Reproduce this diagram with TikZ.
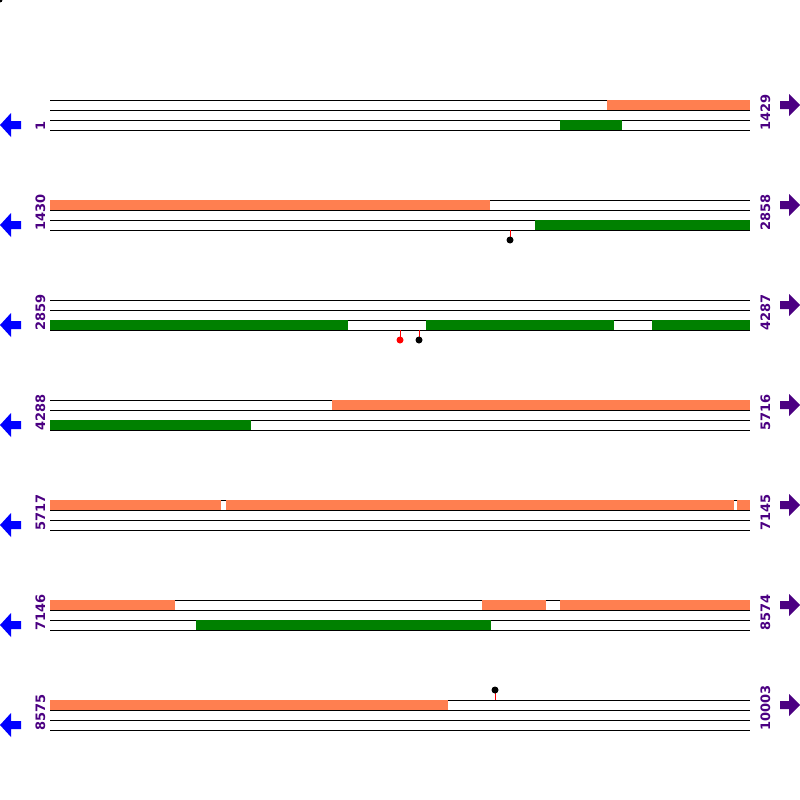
\documentclass[tikz,border=0pt]{standalone}
\usepackage{fontspec}
\setmainfont{DejaVu Sans}
\definecolor{coralc}{HTML}{FF7F50}
\definecolor{greenc}{HTML}{008000}
\definecolor{indigoc}{HTML}{4B0082}
\definecolor{bluec}{HTML}{0000FF}
\tikzset{
  strand/.style={black, line width=1pt},
  fwdbox/.style={fill=coralc, draw=none},
  revbox/.style={fill=greenc, draw=none},
  poslabel/.style={text=indigoc, font=\bfseries\fontsize{13}{13}\selectfont, rotate=90, anchor=west, inner sep=0pt},
  leftarrow/.style={fill=bluec, draw=none},
  rightarrow/.style={fill=indigoc, draw=none},
  stem/.style={red, line width=1pt},
  pin/.style={fill=black, draw=none},
  redpin/.style={fill=red, draw=none}
}
\begin{document}
\begin{tikzpicture}[x=1pt, y=-1pt]
\useasboundingbox (0,0) rectangle (800,800);
\fill[black] (0,0) circle (2.5);
% rows
\foreach \i/\l/\r in {0/1/1429, 1/1430/2858, 2/2859/4287, 3/4288/5716, 4/5717/7145, 5/7146/8574, 6/8575/10003} {
  \pgfmathsetmacro{\yz}{100+100*\i}
  \draw[strand] (50,\yz) -- (750,\yz);
  \draw[strand] (50,\yz+10) -- (750,\yz+10);
  \draw[strand] (50,\yz+20) -- (750,\yz+20);
  \draw[strand] (50,\yz+30) -- (750,\yz+30);
  \node[poslabel] (L\i) at (40.5,\yz+31) {\l};
  \node[poslabel] (R\i) at (765.5,\yz+31) {\r};
  \pgfmathsetmacro{\cl}{\yz+25}
  \pgfmathsetmacro{\cr}{\yz+5}
  \fill[leftarrow] (0,\cl) -- (11,\cl-12) -- (11,\cl-4) -- (21,\cl-4) -- (21,\cl+4) -- (11,\cl+4) -- (11,\cl+12) -- cycle;
  \fill[rightarrow] (800,\cr) -- (789,\cr-11) -- (789,\cr-4) -- (780,\cr-4) -- (780,\cr+4) -- (789,\cr+4) -- (789,\cr+11) -- cycle;
}
% row 1
\fill[fwdbox] (607,100) rectangle (750,110);
\fill[revbox] (560,120) rectangle (622,130);
% row 2
\fill[fwdbox] (50,200) rectangle (490,210);
\fill[revbox] (535,220) rectangle (750,230);
\draw[stem] (510,230) -- (510,237);
\fill[pin] (510,240) circle (3.5);
% row 3
\fill[revbox] (50,320) rectangle (348,330);
\fill[revbox] (426,320) rectangle (614,330);
\fill[revbox] (652,320) rectangle (750,330);
\draw[stem] (400,330) -- (400,337);
\fill[redpin] (400,340) circle (3.5);
\draw[stem] (419,330) -- (419,337);
\fill[pin] (419,340) circle (3.5);
% row 4
\fill[fwdbox] (332,400) rectangle (750,410);
\fill[revbox] (50,420) rectangle (251,430);
% row 5
\fill[fwdbox] (50,500) rectangle (221,510);
\fill[fwdbox] (226,500) rectangle (734,510);
\fill[fwdbox] (737,500) rectangle (750,510);
% row 6
\fill[fwdbox] (50,600) rectangle (175,610);
\fill[fwdbox] (482,600) rectangle (546,610);
\fill[fwdbox] (560,600) rectangle (750,610);
\fill[revbox] (196,620) rectangle (491,630);
% row 7
\fill[fwdbox] (50,700) rectangle (448,710);
\draw[stem] (495,700) -- (495,693);
\fill[pin] (495,690) circle (3.5);
\end{tikzpicture}
\end{document}
